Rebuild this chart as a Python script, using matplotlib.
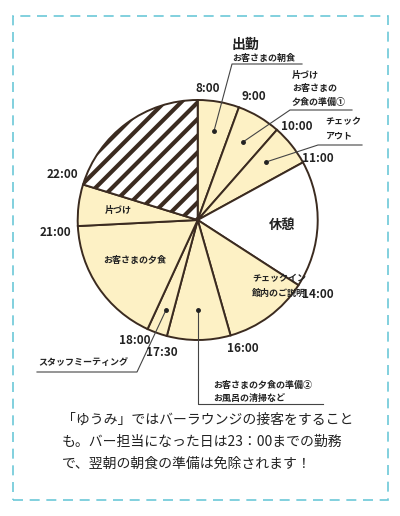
import matplotlib
matplotlib.use("Agg")
import matplotlib.pyplot as plt
from matplotlib.patches import Rectangle
plt.rcParams['font.family'] = ['Noto Sans CJK JP', 'DejaVu Sans']
plt.rcParams['hatch.color'] = '#d2d2d2'
plt.rcParams['hatch.linewidth'] = 3

activities = ['朝食', '片づけ①', 'チェックアウト', '休憩', 'チェックイン', '夕食準備②',
              'ミーティング', '夕食', '片づけ', '夜']
angles = [20.1, 21.2, 20.0, 61.6, 41.2, 30.8, 9.8, 62.4, 20.1, 72.8]
times = ['8:00', '9:00', '10:00', '11:00', '14:00', '16:00', '17:30', '18:00', '21:00', '22:00']

H = 516
fig = plt.figure(figsize=(4, 5.16), dpi=100)
ax = fig.add_axes([0, 0, 1, 1])
def Y(y): return H - y

edge = '#3b2b20'
cream = '#fdf1c5'
cols = [cream, cream, cream, 'white', cream, cream, cream, cream, cream, 'white']
cx, cy, r = 197.7, Y(220), 120
wedges, _ = ax.pie(angles, colors=cols, startangle=90, counterclock=False,
                   center=(cx, cy), radius=r, frame=True,
                   wedgeprops=dict(edgecolor=edge, linewidth=1.4))
wedges[-1].set_hatch('//')
ax.set_xlim(0, 400); ax.set_ylim(0, H); ax.axis('off'); ax.set_aspect('equal')

ax.add_patch(Rectangle((13, Y(500)), 375, 484, fill=False, edgecolor='#6cc8d8',
                       linestyle=(0, (6, 4)), linewidth=1.2))

tpos = [(208, 88), (254, 97), (297, 126), (318, 158), (318, 294), (243, 349),
        (162, 352), (135, 340), (55, 232), (62, 175)]
for t_, (x, y) in zip(times, tpos):
    ax.text(x, Y(y), t_, fontsize=8.5, fontweight='bold', ha='center', va='center', color='#222')

def t(x, y, s, fs=6.5, w='bold', ha='left'):
    ax.text(x, Y(y), s, fontsize=fs, fontweight=w, ha=ha, va='center', color='#222')
def line(xs, ys, dot=True):
    ax.plot(xs, [Y(v) for v in ys], color='#444', lw=0.8)
    if dot:
        ax.plot(xs[-1], Y(ys[-1]), 'o', color='#222', ms=2.5)

t(232, 45, '出勤', fs=10)
t(232, 58, 'お客さまの朝食')
line([302, 232, 214], [64, 64, 131])
t(292, 75, '片づけ'); t(292, 89, 'お客さまの'); t(292, 102, '夕食の準備①')
line([352, 290, 243], [110, 110, 142])
t(325, 122, 'チェック'); t(325, 136, 'アウト')
line([362, 318, 266], [145, 145, 162])
t(282, 225, '休憩', fs=9.5, ha='center')
t(252, 279, 'チェックイン'); t(252, 293, '館内のご説明')
t(135, 260, 'お客さまの夕食', ha='center')
t(118, 210, '片づけ', ha='center')
t(38, 362, 'スタッフミーティング')
line([37, 137, 166], [372, 372, 310])
t(213, 385, 'お客さまの夕食の準備②'); t(213, 398, 'お風呂の清掃など')
line([323, 198, 198], [404, 404, 310])

body = ['「ゆうみ」ではバーラウンジの接客をすること',
        'も。バー担当になった日は23：00までの勤務',
        'で、翌朝の朝食の準備は免除されます！']
for i, s in enumerate(body):
    ax.text(62, Y(420 + 22 * i), s, fontsize=10, ha='left', va='center', color='#222')

fig.savefig('out.png', dpi=100)
